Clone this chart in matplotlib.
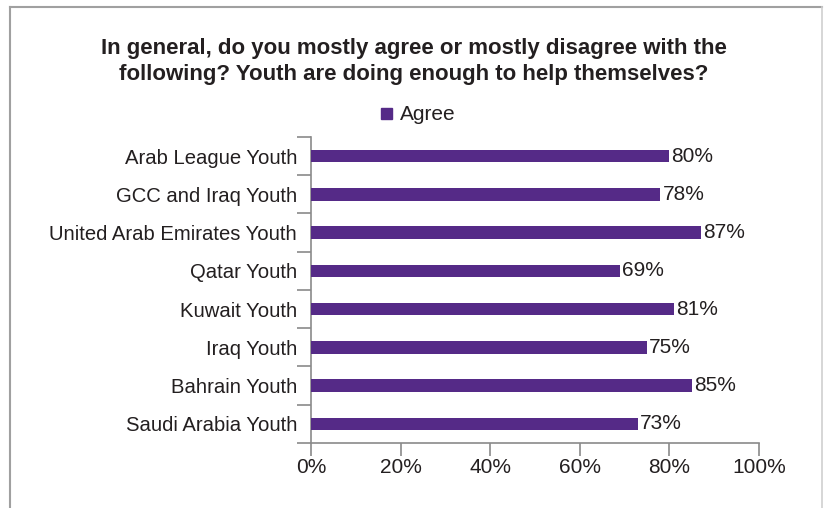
import matplotlib
matplotlib.use("Agg")
import matplotlib.pyplot as plt
from matplotlib.lines import Line2D
from matplotlib.patches import Rectangle
import numpy as np

categories = ["Arab League Youth", "GCC and Iraq Youth", "United Arab Emirates Youth",
              "Qatar Youth", "Kuwait Youth", "Iraq Youth", "Bahrain Youth",
              "Saudi Arabia Youth"]
agree = [80, 78, 87, 69, 81, 75, 85, 73]
x_ticks = [0, 20, 40, 60, 80, 100]

BAR = "#552a87"
TEXT = "#231f20"
AXIS = "#8a8a8a"

plt.rcParams["font.family"] = ["Liberation Sans", "DejaVu Sans"]

fig = plt.figure(figsize=(8.24, 5.08), dpi=100)
ax = fig.add_axes([0.3774, 0.128, 0.5437, 0.6024])

n = len(categories)
ypos = np.arange(n)[::-1]
ax.barh(ypos, agree, height=0.33, color=BAR, zorder=3)
for y, v in zip(ypos, agree):
    ax.text(v + 0.5, y, f"{v}%", va="center", ha="left", fontsize=15, color=TEXT)

ax.set_xlim(0, 100)
ax.set_ylim(-0.5, n - 0.5)
ax.set_xticks(x_ticks)
ax.set_xticklabels([f"{t}%" for t in x_ticks], fontsize=15, color=TEXT)
ax.tick_params(axis="x", length=9, width=1.2, color=AXIS, pad=2)

# boundary ticks (major) and labels at centres (minor)
ax.set_yticks(np.arange(-0.5, n, 1.0))
ax.set_yticklabels([])
ax.tick_params(axis="y", which="major", length=10, width=1.2, color=AXIS)
ax.set_yticks(ypos, minor=True)
ax.set_yticklabels(categories, minor=True, fontsize=14.6, color=TEXT)
ax.tick_params(axis="y", which="minor", length=0, pad=10)

for s in ["top", "right"]:
    ax.spines[s].set_visible(False)
for s in ["left", "bottom"]:
    ax.spines[s].set_color(AXIS)
    ax.spines[s].set_linewidth(1.2)

fig.text(0.502, 0.879, "In general, do you mostly agree or mostly disagree with the\n"
         "following? Youth are doing enough to help themselves?",
         ha="center", va="center", fontsize=16, fontweight="bold", color=TEXT,
         linespacing=1.3)

# legend
fig.add_artist(Rectangle((381 / 824, 1 - 119 / 508), 11 / 824, 11 / 508,
                         transform=fig.transFigure, color=BAR))
fig.text(400 / 824, 1 - 115 / 508, "Agree", ha="left", va="center", fontsize=15, color=TEXT)

# outer frame
fig.add_artist(Line2D([9.5 / 824, 9.5 / 824], [0, 1 - 7 / 508], color="#a0a0a0", lw=1.5,
                      transform=fig.transFigure))
fig.add_artist(Line2D([9.5 / 824, 822 / 824], [1 - 7 / 508, 1 - 7 / 508], color="#a0a0a0",
                      lw=1.5, transform=fig.transFigure))
fig.add_artist(Line2D([822 / 824, 822 / 824], [0, 1 - 7 / 508], color="#d0d0d0", lw=1.2,
                      transform=fig.transFigure))

fig.savefig("out.png", dpi=100)
